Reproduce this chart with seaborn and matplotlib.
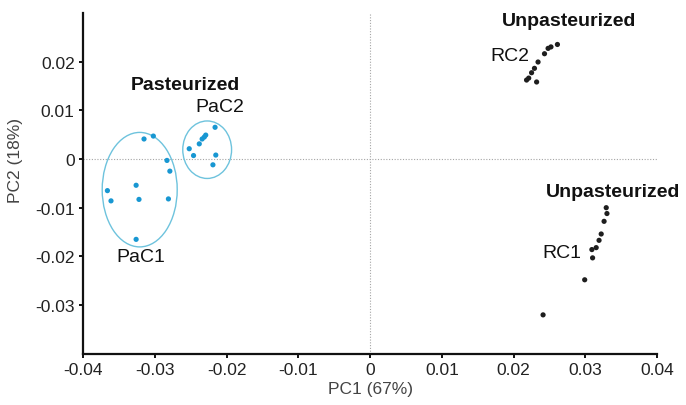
import matplotlib
matplotlib.use("Agg")
import matplotlib.pyplot as plt
from matplotlib.patches import Ellipse
import numpy as np
import pandas as pd
import seaborn as sns

# PCA scores (PC1, PC2) per cheese sample group
pac1_pc1 = [-0.0315, -0.0302, -0.0283, -0.0279, -0.0326, -0.0366, -0.0361, -0.0322, -0.0281, -0.0326]
pac1_pc2 = [0.0041, 0.0047, -0.0003, -0.0025, -0.0054, -0.0065, -0.0086, -0.0083, -0.0082, -0.0165]

pac2_pc1 = [-0.0216, -0.0229, -0.0231, -0.0234, -0.0238, -0.0252, -0.0246, -0.0215, -0.0219]
pac2_pc2 = [0.0065, 0.0049, 0.0045, 0.0041, 0.0031, 0.0021, 0.0007, 0.0008, -0.0012]

rc2_pc1 = [0.0261, 0.0252, 0.0248, 0.0243, 0.0234, 0.0229, 0.0225, 0.0221, 0.0232, 0.0218]
rc2_pc2 = [0.0235, 0.0230, 0.0227, 0.0216, 0.0199, 0.0186, 0.0177, 0.0166, 0.0158, 0.0162]

rc1_pc1 = [0.0329, 0.0330, 0.0326, 0.0322, 0.0319, 0.0315, 0.0309, 0.0310, 0.0299, 0.0241]
rc1_pc2 = [-0.0100, -0.0112, -0.0128, -0.0154, -0.0167, -0.0182, -0.0186, -0.0203, -0.0248, -0.0320]

# confidence ellipses around the pasteurized groups: centre x, centre y, width, height
pac1_ellipse = [-0.0321, -0.0063, 0.01045, 0.0235]
pac2_ellipse = [-0.0227, 0.0019, 0.0068, 0.0118]

x_ticks = [-0.04, -0.03, -0.02, -0.01, 0, 0.01, 0.02, 0.03, 0.04]
x_tick_labels = ["-0.04", "-0.03", "-0.02", "-0.01", "0", "0.01", "0.02", "0.03", "0.04"]
y_ticks = [-0.03, -0.02, -0.01, 0, 0.01, 0.02]
y_tick_labels = ["-0.03", "-0.02", "-0.01", "0", "0.01", "0.02"]

df = pd.concat([
    pd.DataFrame({"PC1": pac1_pc1, "PC2": pac1_pc2, "type": "Pasteurized"}),
    pd.DataFrame({"PC1": pac2_pc1, "PC2": pac2_pc2, "type": "Pasteurized"}),
    pd.DataFrame({"PC1": rc2_pc1, "PC2": rc2_pc2, "type": "Unpasteurized"}),
    pd.DataFrame({"PC1": rc1_pc1, "PC2": rc1_pc2, "type": "Unpasteurized"}),
], ignore_index=True)

sns.set_theme(style="ticks")
plt.rcParams["font.family"] = ["Liberation Sans", "DejaVu Sans"]

fig = plt.figure(figsize=(6.86, 4.06), dpi=100)
ax = fig.add_axes([0.121, 0.126, 0.837, 0.840])

ax.axvline(0, color="#a5a5a5", linestyle=(0, (1, 1.5)), linewidth=0.8, zorder=0)
ax.axhline(0, color="#a5a5a5", linestyle=(0, (1, 1.5)), linewidth=0.8, zorder=0)

sns.scatterplot(data=df, x="PC1", y="PC2", hue="type",
                palette={"Pasteurized": "#1897d2", "Unpasteurized": "#1e1e1e"},
                s=14, linewidth=0, legend=False, ax=ax, zorder=3)

for cx, cy, w, h in (pac1_ellipse, pac2_ellipse):
    ax.add_patch(Ellipse((cx, cy), w, h, fill=False, edgecolor="#6ec3dd", linewidth=1.0, zorder=2))

ax.set_xlim(-0.04, 0.04)
ax.set_ylim(-0.04, 0.03)
ax.set_xticks(x_ticks)
ax.set_xticklabels(x_tick_labels)
ax.set_yticks(y_ticks)
ax.set_yticklabels(y_tick_labels)

sns.despine(ax=ax)
for side in ("left", "bottom"):
    ax.spines[side].set_linewidth(1.6)
    ax.spines[side].set_color("#111111")
ax.tick_params(axis="both", direction="out", length=3, width=1.4, color="#111111",
               labelsize=12.5, labelcolor="#222222", pad=3)

ax.set_xlabel("PC1 (67%)", fontsize=12.5, color="#444444", labelpad=3)
ax.set_ylabel("PC2 (18%)", fontsize=12.5, color="#444444")
ax.yaxis.set_label_coords(-0.105, 0.57)

bold = dict(fontsize=14, fontweight="bold", color="#111111", ha="center", va="center")
norm = dict(fontsize=14, color="#111111", ha="center", va="center")
ax.text(0.0277, 0.0285, "Unpasteurized", **bold)
ax.text(0.0338, -0.0066, "Unpasteurized", **bold)
ax.text(-0.0257, 0.0152, "Pasteurized", **bold)
ax.text(0.0195, 0.0213, "RC2", **norm)
ax.text(0.0267, -0.0193, "RC1", **norm)
ax.text(-0.0210, 0.0108, "PaC2", **norm)
ax.text(-0.0320, -0.0201, "PaC1", **norm)

fig.savefig("out.png", dpi=100)
